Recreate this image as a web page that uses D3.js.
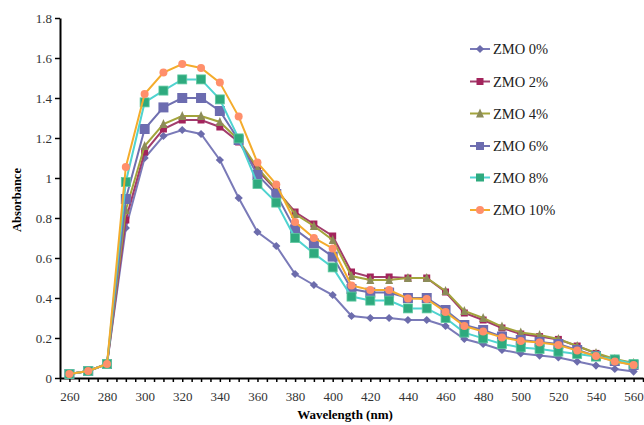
<!DOCTYPE html>
<html>
<head>
<meta charset="utf-8">
<script src="https://cdn.jsdelivr.net/npm/d3@7"></script>
<style>
  body { margin: 0; background: #fff; }
  text { font-family: "Liberation Serif", "DejaVu Serif", serif; }
</style>
</head>
<body>
<svg width="644" height="425"></svg>
<script>
// wavelength categories (nm)
var wavelengths = [260, 270, 280, 290, 300, 310, 320, 330, 340, 350, 360, 370, 380, 390, 400,
                   410, 420, 430, 440, 450, 460, 470, 480, 490, 500, 510, 520, 530, 540, 550, 560];

var zmo0  = [0.02, 0.035, 0.07, 0.75, 1.10, 1.21, 1.24, 1.22, 1.09, 0.90, 0.73, 0.66, 0.52, 0.465, 0.415,
             0.31, 0.30, 0.30, 0.29, 0.29, 0.26, 0.195, 0.17, 0.14, 0.123, 0.112, 0.103, 0.082, 0.062, 0.045, 0.032];
var zmo2  = [0.02, 0.035, 0.07, 0.79, 1.13, 1.245, 1.29, 1.29, 1.255, 1.18, 1.04, 0.94, 0.83, 0.77, 0.71,
             0.53, 0.505, 0.505, 0.50, 0.50, 0.43, 0.325, 0.29, 0.25, 0.22, 0.207, 0.193, 0.16, 0.123, 0.09, 0.072];
var zmo4  = [0.02, 0.035, 0.07, 0.84, 1.16, 1.27, 1.31, 1.31, 1.28, 1.19, 1.05, 0.945, 0.82, 0.76, 0.69,
             0.51, 0.49, 0.49, 0.50, 0.50, 0.435, 0.335, 0.30, 0.257, 0.228, 0.215, 0.195, 0.16, 0.125, 0.095, 0.075];
var zmo6  = [0.02, 0.035, 0.07, 0.895, 1.245, 1.353, 1.40, 1.40, 1.335, 1.19, 1.015, 0.92, 0.743, 0.673, 0.607,
             0.445, 0.427, 0.427, 0.40, 0.40, 0.34, 0.265, 0.24, 0.207, 0.19, 0.18, 0.17, 0.14, 0.11, 0.085, 0.065];
var zmo8  = [0.02, 0.035, 0.07, 0.98, 1.378, 1.437, 1.493, 1.493, 1.393, 1.198, 0.97, 0.877, 0.70, 0.623, 0.553,
             0.407, 0.387, 0.387, 0.348, 0.348, 0.30, 0.227, 0.198, 0.17, 0.153, 0.145, 0.132, 0.12, 0.107, 0.093, 0.07];
var zmo10 = [0.02, 0.035, 0.07, 1.055, 1.42, 1.527, 1.57, 1.55, 1.477, 1.307, 1.077, 0.968, 0.78, 0.70, 0.648,
             0.463, 0.44, 0.44, 0.398, 0.395, 0.33, 0.26, 0.232, 0.203, 0.185, 0.177, 0.165, 0.137, 0.11, 0.082, 0.065];

var seriesNames = ["ZMO 0%", "ZMO 2%", "ZMO 4%", "ZMO 6%", "ZMO 8%", "ZMO 10%"];
var yTicks = [0, 0.2, 0.4, 0.6, 0.8, 1, 1.2, 1.4, 1.6, 1.8];
var xLabels = [260, 280, 300, 320, 340, 360, 380, 400, 420, 440, 460, 480, 500, 520, 540, 560];

// style per series: line colour, marker colour, marker shape, marker size
var styles = [
  { line: "#7a7ab8", fill: "#6c6cac", shape: "diamond", size: 7 },
  { line: "#a23c6c", fill: "#a3245c", shape: "square", size: 7 },
  { line: "#a3a43c", fill: "#8c8c58", shape: "triangle", size: 8 },
  { line: "#7070b0", fill: "#6c6cb0", shape: "square", size: 10 },
  { line: "#4fd3d0", fill: "#2eaa7e", shape: "square", size: 9 },
  { line: "#f4ac2c", fill: "#ff8f6b", shape: "circle", size: 8 }
];
var allSeries = [zmo0, zmo2, zmo4, zmo6, zmo8, zmo10];

var svg = d3.select("svg");
var plotL = 60, plotR = 643, plotT = 18, plotB = 378;

var xScale = d3.scaleLinear().domain([255, 565]).range([plotL, plotR]);
var yScale = d3.scaleLinear().domain([0, 1.8]).range([plotB, plotT]);

// y axis
var yAxis = d3.axisLeft(yScale).tickValues(yTicks).tickSize(5).tickSizeOuter(0)
  .tickFormat(d3.format("~g"));
var gy = svg.append("g").attr("transform", "translate(" + plotL + ",0)").call(yAxis);
gy.select(".domain").attr("stroke", "#000").attr("stroke-width", 2);
gy.selectAll(".tick line").attr("stroke", "#000").attr("stroke-width", 1.5);
gy.selectAll(".tick text").attr("font-size", 13).attr("fill", "#333")
  .attr("font-family", "Liberation Serif, serif").attr("x", -8);

// x axis: small ticks every 5 nm, labels every 20 nm
var tickVals = d3.range(255, 566, 5);
var xAxis = d3.axisBottom(xScale).tickValues(tickVals).tickSize(4).tickSizeOuter(0)
  .tickFormat(d => xLabels.indexOf(d) >= 0 ? d : "");
var gx = svg.append("g").attr("transform", "translate(0," + plotB + ")").call(xAxis);
gx.select(".domain").attr("stroke", "#000").attr("stroke-width", 2);
gx.selectAll(".tick line").attr("stroke", "#000").attr("stroke-width", 1.5);
gx.selectAll(".tick text").attr("font-size", 13).attr("fill", "#333")
  .attr("font-family", "Liberation Serif, serif").attr("y", 14);

// lines
var line = d3.line()
  .x((d, i) => xScale(wavelengths[i]))
  .y(d => yScale(d));

function marker(g, st, x, y) {
  var s = st.size;
  if (st.shape === "diamond") {
    g.append("rect").attr("x", x - s / 2 / 1.2).attr("y", y - s / 2 / 1.2)
      .attr("width", s / 1.2).attr("height", s / 1.2)
      .attr("transform", "rotate(45," + x + "," + y + ")").attr("fill", st.fill);
  } else if (st.shape === "square") {
    g.append("rect").attr("x", x - s / 2).attr("y", y - s / 2)
      .attr("width", s).attr("height", s).attr("fill", st.fill)
      .attr("stroke", s === 9 ? "#5fc9a0" : "none").attr("stroke-width", 0.8);
  } else if (st.shape === "triangle") {
    g.append("path").attr("d", "M" + x + "," + (y - s / 2 - 1) + "L" + (x + s / 2) + "," + (y + s / 2) +
      "L" + (x - s / 2) + "," + (y + s / 2) + "Z").attr("fill", st.fill);
  } else {
    g.append("circle").attr("cx", x).attr("cy", y).attr("r", s / 2).attr("fill", st.fill);
  }
}

allSeries.forEach(function (vals, k) {
  var st = styles[k];
  var g = svg.append("g");
  g.append("path").datum(vals).attr("d", line)
    .attr("fill", "none").attr("stroke", st.line).attr("stroke-width", 2);
  vals.forEach(function (v, i) {
    marker(g, st, xScale(wavelengths[i]), yScale(v));
  });
});

// legend
var legendY = [49, 81.5, 113.5, 146, 177.5, 210];
seriesNames.forEach(function (name, k) {
  var st = styles[k];
  var g = svg.append("g");
  var y = legendY[k];
  g.append("line").attr("x1", 470).attr("x2", 490).attr("y1", y).attr("y2", y)
    .attr("stroke", st.line).attr("stroke-width", 2);
  var ms = Object.assign({}, st, { size: Math.min(st.size, 8) });
  marker(g, ms, 480, y);
  g.append("text").attr("x", 493).attr("y", y + 5).attr("font-size", 14.5).attr("fill", "#222")
    .text(name);
});

// axis titles
svg.append("text")
  .attr("transform", "rotate(-90)")
  .attr("x", -200).attr("y", 21)
  .style("text-anchor", "middle")
  .attr("font-size", 12.5).attr("font-weight", "bold")
  .text("Absorbance");

svg.append("text")
  .attr("x", 345).attr("y", 419)
  .style("text-anchor", "middle")
  .attr("font-size", 13).attr("font-weight", "bold")
  .text("Wavelength (nm)");
</script>
</body>
</html>
